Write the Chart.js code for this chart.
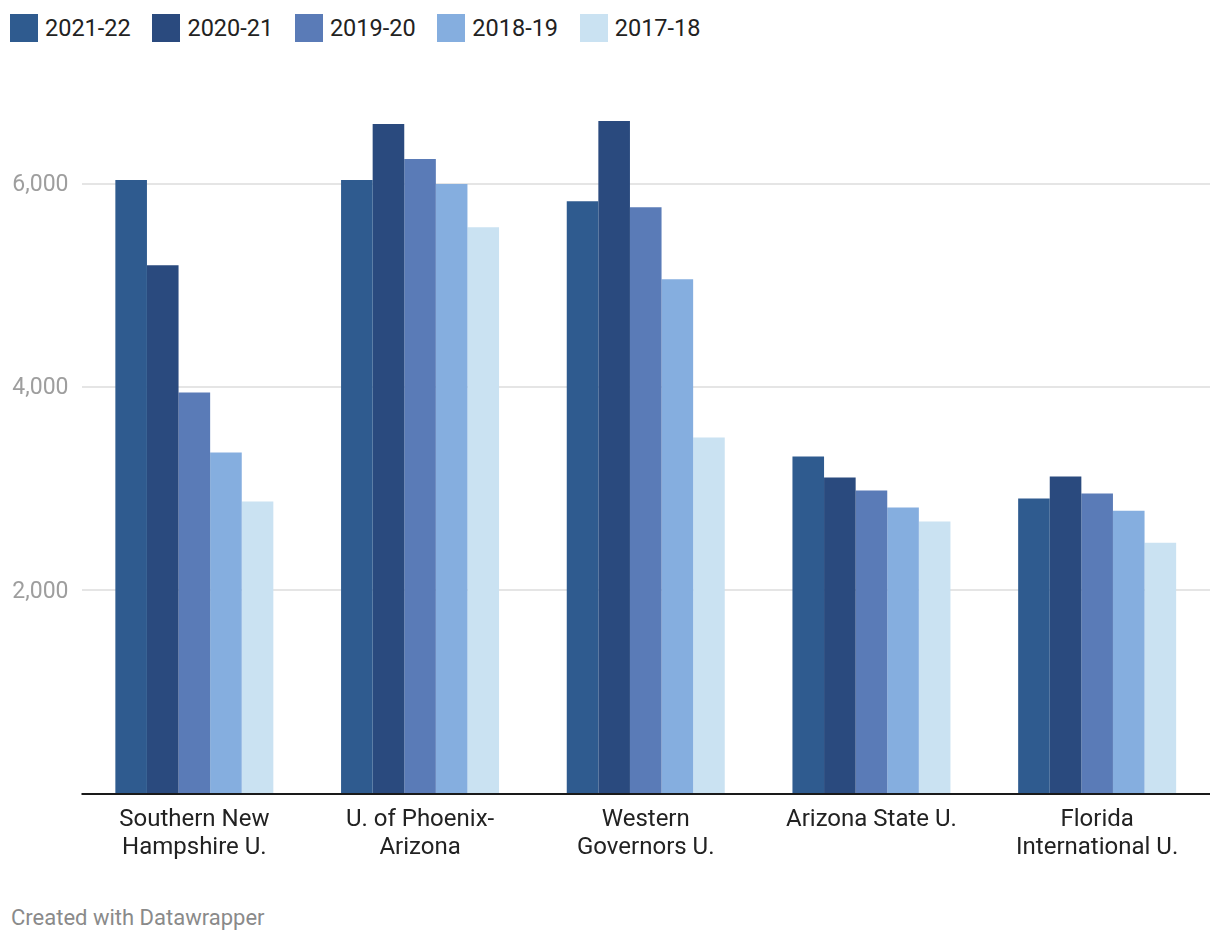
<!DOCTYPE html>
<html>
<head>
<meta charset="utf-8">
<script src="https://cdn.jsdelivr.net/npm/chart.js@4"></script>
<style>
    html, body { margin: 0; padding: 0; background: #fff; }
    body { width: 1220px; height: 944px; position: relative; overflow: hidden; font-family: Roboto, sans-serif; }
    #legend { position: absolute; left: 10px; top: 14px; display: flex; align-items: center; }
    .item { display: flex; align-items: center; margin-right: 21.7px; font-size: 23.5px; color: #222; }
    .swatch { width: 28px; height: 28px; margin-right: 7px; }
    #wrap { position: absolute; left: 0; top: 0; width: 1220px; height: 890px; }
    #footer { position: absolute; left: 11px; top: 905px; font-size: 22px; color: #8a8a8a; }
</style>
</head>
<body>
<div id="legend"></div>
<div id="wrap"><canvas id="chart"></canvas></div>
<div id="footer">Created with Datawrapper</div>
<script>
const schools = [
    ['Southern New', 'Hampshire U.'],
    ['U. of Phoenix-', 'Arizona'],
    ['Western', 'Governors U.'],
    'Arizona State U.',
    ['Florida', 'International U.']
];
const years = ['2021-22', '2020-21', '2019-20', '2018-19', '2017-18'];
const colors = ['#2f5b8f', '#2a4a7e', '#5a7bb7', '#85aedf', '#cae2f2'];

const y2021 = [6034, 6034, 5827, 3313, 2899];
const y2020 = [5196, 6586, 6616, 3106, 3116];
const y2019 = [3944, 6241, 5768, 2978, 2948];
const y2018 = [3352, 5995, 5058, 2810, 2780];
const y2017 = [2869, 5571, 3500, 2672, 2465];
const yTicks = [2000, 4000, 6000];

const seriesValues = [y2021, y2020, y2019, y2018, y2017];

// legend
const legend = document.getElementById('legend');
years.forEach((yr, i) => {
    const el = document.createElement('div');
    el.className = 'item';
    el.innerHTML = `<span class="swatch" style="background:${colors[i]}"></span><span>${yr}</span>`;
    legend.appendChild(el);
});

// black baseline at zero, across the plot area
const baseline = {
    id: 'baseline',
    afterDatasetsDraw(chart) {
        const { ctx, chartArea, scales } = chart;
        const y0 = Math.round(scales.y.getPixelForValue(0)) + 1;
        ctx.save();
        ctx.strokeStyle = '#1a1a1a';
        ctx.lineWidth = 2;
        ctx.beginPath();
        ctx.moveTo(chartArea.left, y0);
        ctx.lineTo(chartArea.right, y0);
        ctx.stroke();
        ctx.restore();
    }
};

const ctx = document.getElementById('chart').getContext('2d');
new Chart(ctx, {
    type: 'bar',
    data: {
        labels: schools,
        datasets: years.map((yr, i) => ({
            label: yr,
            data: seriesValues[i],
            backgroundColor: colors[i],
            borderWidth: 0,
            categoryPercentage: 0.7,
            barPercentage: 1.0
        }))
    },
    options: {
        responsive: true,
        maintainAspectRatio: false,
        animation: false,
        layout: { padding: { top: 82, right: 10, left: 0, bottom: 0 } },
        plugins: {
            legend: { display: false },
            tooltip: { enabled: false }
        },
        scales: {
            x: {
                grid: { display: false, drawTicks: false },
                border: { display: false },
                ticks: {
                    color: '#222',
                    font: { family: 'Roboto', size: 24, lineHeight: 1.17 },
                    padding: 13,
                    maxRotation: 0,
                    autoSkip: false
                },
                afterFit: (scale) => { scale.height = 97; }
            },
            y: {
                min: 0,
                max: 7000,
                border: { display: false },
                grid: { color: '#e5e5e5', lineWidth: 2, drawTicks: false },
                ticks: {
                    color: '#9e9e9e',
                    font: { family: 'Roboto', size: 23 },
                    padding: 13,
                    labelOffset: 2,
                    callback: (v) => v.toLocaleString('en-US')
                },
                afterBuildTicks: (scale) => { scale.ticks = yTicks.map(v => ({ value: v })); },
                afterFit: (scale) => { scale.width = 81.5; }
            }
        }
    },
    plugins: [baseline]
});
</script>
</body>
</html>
